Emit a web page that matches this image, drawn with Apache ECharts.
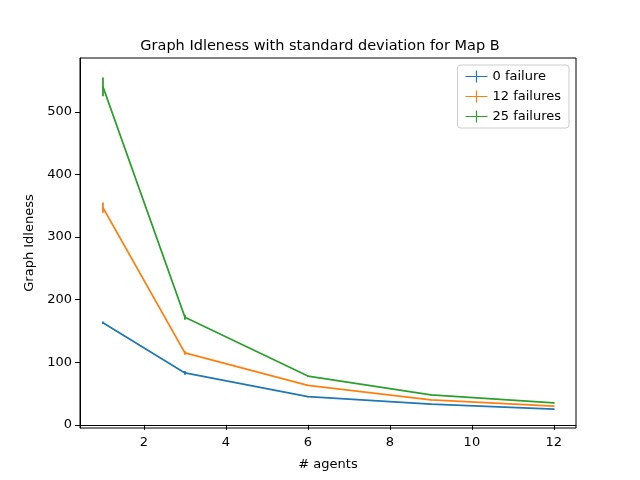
<!DOCTYPE html>
<html><head><meta charset="utf-8">
<script src="https://cdn.jsdelivr.net/npm/echarts@6/dist/echarts.min.js"></script>
<style>html,body{margin:0;padding:0;background:#fff}#c{width:640px;height:480px}</style>
</head><body><div id="c"></div>
<script>
const agents = [1, 3, 6, 9, 12];
const names = ['0 failure', '12 failures', '25 failures'];
const colors = ['#1f77b4', '#ff7f0e', '#2ca02c'];
const means0 = [163, 83, 45, 33, 25];
const means12 = [347, 115, 63, 40, 30];
const means25 = [540, 172, 78, 48, 35];
const std0 = [2, 3, 1, 1, 1];
const std12 = [8, 3, 1, 1, 1];
const std25 = [15, 4, 1, 1, 1];
const xTicks = [2, 4, 6, 8, 10, 12];
const yTicks = [0, 100, 200, 300, 400, 500];

const means = [means0, means12, means25];
const stds = [std0, std12, std25];
const series = [];
means.forEach((m, i) => {
  series.push({
    name: names[i], type: 'line', data: agents.map((a, k) => [a, m[k]]),
    symbol: 'none', lineStyle: { color: colors[i], width: 1.8 }, itemStyle: { color: colors[i] }, z: 2
  });
  series.push({
    type: 'custom', data: agents.map((a, k) => [a, m[k], stds[i][k]]),
    renderItem: (params, api) => {
      const x = api.value(0), y = api.value(1), s = api.value(2);
      const p1 = api.coord([x, y - s]), p2 = api.coord([x, y + s]);
      return { type: 'line', shape: { x1: p1[0], y1: p1[1], x2: p2[0], y2: p2[1] },
        style: { stroke: colors[i], lineWidth: 1.8 } };
    }, z: 3, silent: true
  });
});
const chart = echarts.init(document.getElementById('c'));
chart.setOption({
  animation: false,
  title: { text: 'Graph Idleness with standard deviation for Map B', left: 'center', top: 34,
    textStyle: { fontFamily: 'DejaVu Sans', fontSize: 14.5, fontWeight: 'normal', color: '#000' } },
  legend: { data: names.map((n, i) => ({ name: n, itemStyle: { color: colors[i] } })),
    orient: 'vertical', right: 71, top: 65, itemWidth: 22, itemHeight: 12, itemGap: 7,
    icon: 'path://M0,5.4L22,5.4L22,6.6L0,6.6Z M10.4,0L11.6,0L11.6,12L10.4,12Z',
    borderColor: '#ccc', borderWidth: 1, borderRadius: 3, padding: [5, 8],
    textStyle: { fontFamily: 'DejaVu Sans', fontSize: 13, color: '#000' } },
  grid: { left: 80, right: 64, top: 58, bottom: 52 },
  xAxis: { type: 'value', min: 0.44, max: 12.54, name: '# agents', nameLocation: 'middle', nameGap: 30,
    nameTextStyle: { fontFamily: 'DejaVu Sans', fontSize: 13, color: '#000' },
    axisLine: { lineStyle: { color: '#000' } }, splitLine: { show: false },
    axisTick: { customValues: xTicks, lineStyle: { color: '#000' } },
    axisLabel: { customValues: xTicks, color: '#000', fontFamily: 'DejaVu Sans', fontSize: 13 } },
  yAxis: { type: 'value', min: -5, max: 586, name: 'Graph Idleness', nameLocation: 'middle', nameGap: 44,
    nameTextStyle: { fontFamily: 'DejaVu Sans', fontSize: 13, color: '#000' },
    axisLine: { show: true, lineStyle: { color: '#000' } }, splitLine: { show: false },
    axisTick: { show: true, customValues: yTicks, lineStyle: { color: '#000' } },
    axisLabel: { customValues: yTicks, color: '#000', fontFamily: 'DejaVu Sans', fontSize: 13 } },
  series: series
});
chart.setOption({ graphic: [{ type: 'rect', shape: { x: 80, y: 58, width: 496, height: 370 },
  style: { fill: 'none', stroke: '#000', lineWidth: 1 }, silent: true, z: 0 }] });
</script></body></html>
